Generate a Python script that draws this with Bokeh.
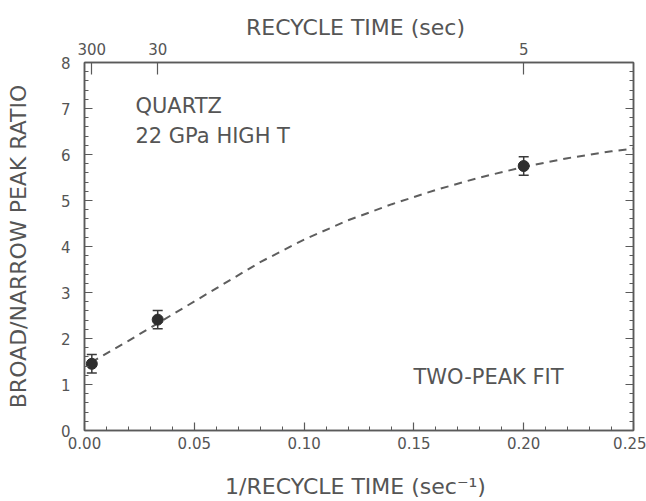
from bokeh.plotting import figure
from bokeh.models import (LinearAxis, FixedTicker, SingleIntervalTicker, CustomJSTickFormatter,
                          PrintfTickFormatter, Range1d, ColumnDataSource, Whisker, TeeHead)
from bokeh.core.properties import value
from bokeh.embed import file_html
from bokeh.resources import INLINE

# ---- data ----
inv_time = [1 / 300, 1 / 30, 1 / 5]          # 1/recycle time (sec^-1)
ratio = [1.45, 2.41, 5.75]                    # broad/narrow peak ratio
ratio_err = [0.2, 0.2, 0.2]

fit_x = [0.003, 0.02, 0.04, 0.06, 0.08, 0.10, 0.12, 0.14, 0.16, 0.18, 0.20, 0.22, 0.24, 0.25]
fit_y = [1.48, 1.95, 2.52, 3.09, 3.66, 4.15, 4.57, 4.92, 5.23, 5.50, 5.73, 5.92, 6.07, 6.13]

top_tick_seconds = [300, 30, 5]

ann_x = [0.0232, 0.0232, 0.1498]
ann_y = [7.05, 6.40, 1.17]
ann_text = ["QUARTZ", "22 GPa HIGH T", "TWO-PEAK FIT"]

FONT = "DejaVu Sans"
TXT = "#555555"
LINE = "#5a5a5a"

p = figure(width=646, height=501, x_range=Range1d(0, 0.25), y_range=Range1d(0, 8),
           output_backend="svg", toolbar_location=None,
           min_border_left=84, min_border_right=13, min_border_top=62, min_border_bottom=70)
p.background_fill_color = "white"
p.border_fill_color = "white"
p.outline_line_color = LINE
p.outline_line_width = 1.5
p.xgrid.visible = False
p.ygrid.visible = False


def style_axis(ax, major_in=8, minor_in=4):
    ax.axis_line_color = LINE
    ax.axis_line_width = 1.5
    ax.major_tick_line_color = LINE
    ax.minor_tick_line_color = LINE
    ax.major_tick_line_width = 1.2
    ax.minor_tick_line_width = 1
    ax.major_tick_in = major_in
    ax.major_tick_out = 0
    ax.minor_tick_in = minor_in
    ax.minor_tick_out = 0
    ax.major_label_text_font = FONT
    ax.major_label_text_font_size = "15px"
    ax.major_label_text_color = TXT
    ax.axis_label_text_font = FONT
    ax.axis_label_text_font_size = "22px"
    ax.axis_label_text_font_style = "normal"
    ax.axis_label_text_color = TXT


# bottom axis
xa = p.xaxis[0]
xa.ticker = SingleIntervalTicker(interval=0.05, num_minor_ticks=5)
xa.formatter = PrintfTickFormatter(format="%.2f")
xa.axis_label = "1/RECYCLE TIME  (sec\u207b\u00b9)"
style_axis(xa)
xa.major_label_standoff = 6
xa.axis_label_standoff = 22

# left axis
ya = p.yaxis[0]
ya.ticker = SingleIntervalTicker(interval=1, num_minor_ticks=5)
ya.axis_label = "BROAD/NARROW PEAK RATIO"
style_axis(ya)
ya.major_label_standoff = 14
ya.axis_label_standoff = 27

# top axis: recycle time
top_ax = LinearAxis(ticker=FixedTicker(ticks=[1 / s for s in top_tick_seconds], minor_ticks=[]),
                    formatter=CustomJSTickFormatter(code="return String(Math.round(1/tick));"),
                    axis_label="RECYCLE TIME  (sec)")
style_axis(top_ax, major_in=12)
top_ax.major_label_standoff = 8
top_ax.axis_label_standoff = 0
p.add_layout(top_ax, "above")

# right axis: ticks only
right_ax = LinearAxis(ticker=SingleIntervalTicker(interval=1, num_minor_ticks=5),
                      formatter=CustomJSTickFormatter(code="return '';"))
style_axis(right_ax)
right_ax.major_label_standoff = 0
p.add_layout(right_ax, "right")

# fitted dashed curve
p.line(fit_x, fit_y, line_dash="8 6", line_width=2, line_color="#5e5e5e")

# data points with error bars
src = ColumnDataSource(dict(x=inv_time, y=ratio,
                            upper=[r + e for r, e in zip(ratio, ratio_err)],
                            lower=[r - e for r, e in zip(ratio, ratio_err)]))
wh = Whisker(source=src, base="x", upper="upper", lower="lower", dimension="height",
             line_color="#3a3a3a", line_width=1.5,
             upper_head=TeeHead(size=10, line_color="#3a3a3a", line_width=1.5),
             lower_head=TeeHead(size=10, line_color="#3a3a3a", line_width=1.5))
p.add_layout(wh)
p.scatter("x", "y", source=src, size=11, fill_color="#2e2e2e", line_color="#2e2e2e")

# annotations
ann_src = ColumnDataSource(dict(x=ann_x, y=ann_y, text=ann_text))
p.text("x", "y", text="text", source=ann_src, text_font=value(FONT), text_font_size="21px",
       text_color=TXT, text_align="left", text_baseline="middle")

open("out.html", "w").write(file_html(p, INLINE))
